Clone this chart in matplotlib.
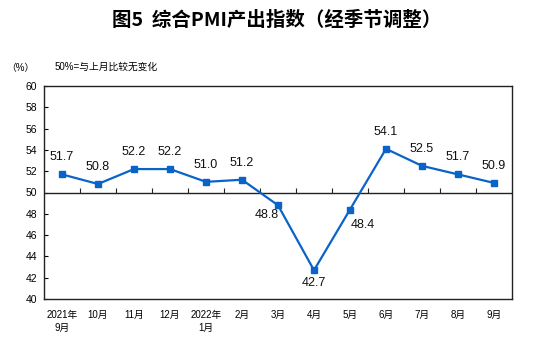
import numpy as np
import matplotlib
matplotlib.use('Agg')
import matplotlib.pyplot as plt

plt.rcParams['font.family'] = ['Liberation Sans', 'Noto Sans CJK SC', 'DejaVu Sans']

months = ['2021年\n9月', '10月', '11月', '12月', '2022年\n1月', '2月', '3月',
          '4月', '5月', '6月', '7月', '8月', '9月']
values = [51.7, 50.8, 52.2, 52.2, 51.0, 51.2, 48.8, 42.7, 48.4, 54.1, 52.5, 51.7, 50.9]
# label offsets in pixels (dx, dy) relative to each point
label_offsets = [(0, 17)] * 6 + [(-11, -10), (0, -13), (13, -15)] + [(0, 17)] * 4

blue = '#0a64c8'

fig = plt.figure(figsize=(5.54, 3.45), dpi=100)
ax = fig.add_axes([44/554, 46/345, 468/554, 213/345])

x = np.arange(len(values))
ax.plot(x, values, color=blue, lw=1.6, marker='s', ms=5, zorder=3)

for xi, v, (dx, dy) in zip(x, values, label_offsets):
    ax.annotate(f'{v:.1f}', (xi, v), xytext=(dx, dy), textcoords='offset pixels',
                ha='center', va='center', fontsize=9, color='#111111')

ax.set_xlim(-0.5, len(values) - 0.5)
ax.set_ylim(40, 60)
ax.set_yticks(np.arange(40, 61, 2))
ax.tick_params(axis='y', direction='in', length=3, labelsize=7.5, pad=5)
ax.set_xticks(x)
ax.set_xticklabels(months, fontsize=7, linespacing=1.3)
ax.tick_params(axis='x', length=0, pad=8)

# 50 baseline with category tick marks
ax.axhline(50, color='#222222', lw=1, zorder=2)
ax.vlines(np.arange(0.5, len(values) - 1, 1), 50, 50.38, color='#222222', lw=0.8)

for s in ax.spines.values():
    s.set_color('#222222')
    s.set_linewidth(1)

fig.text(0.5, 325/345, '图5  综合PMI产出指数（经季节调整）', ha='center', va='center',
         fontsize=14, fontweight='bold', family=['Noto Sans CJK SC', 'DejaVu Sans'])
fig.text(20/554, 277/345, '（%）', ha='center', va='center', fontsize=7)
fig.text(55/554, 278/345, '50%=与上月比较无变化', ha='left', va='center', fontsize=7)

fig.savefig('out.png', dpi=100)
